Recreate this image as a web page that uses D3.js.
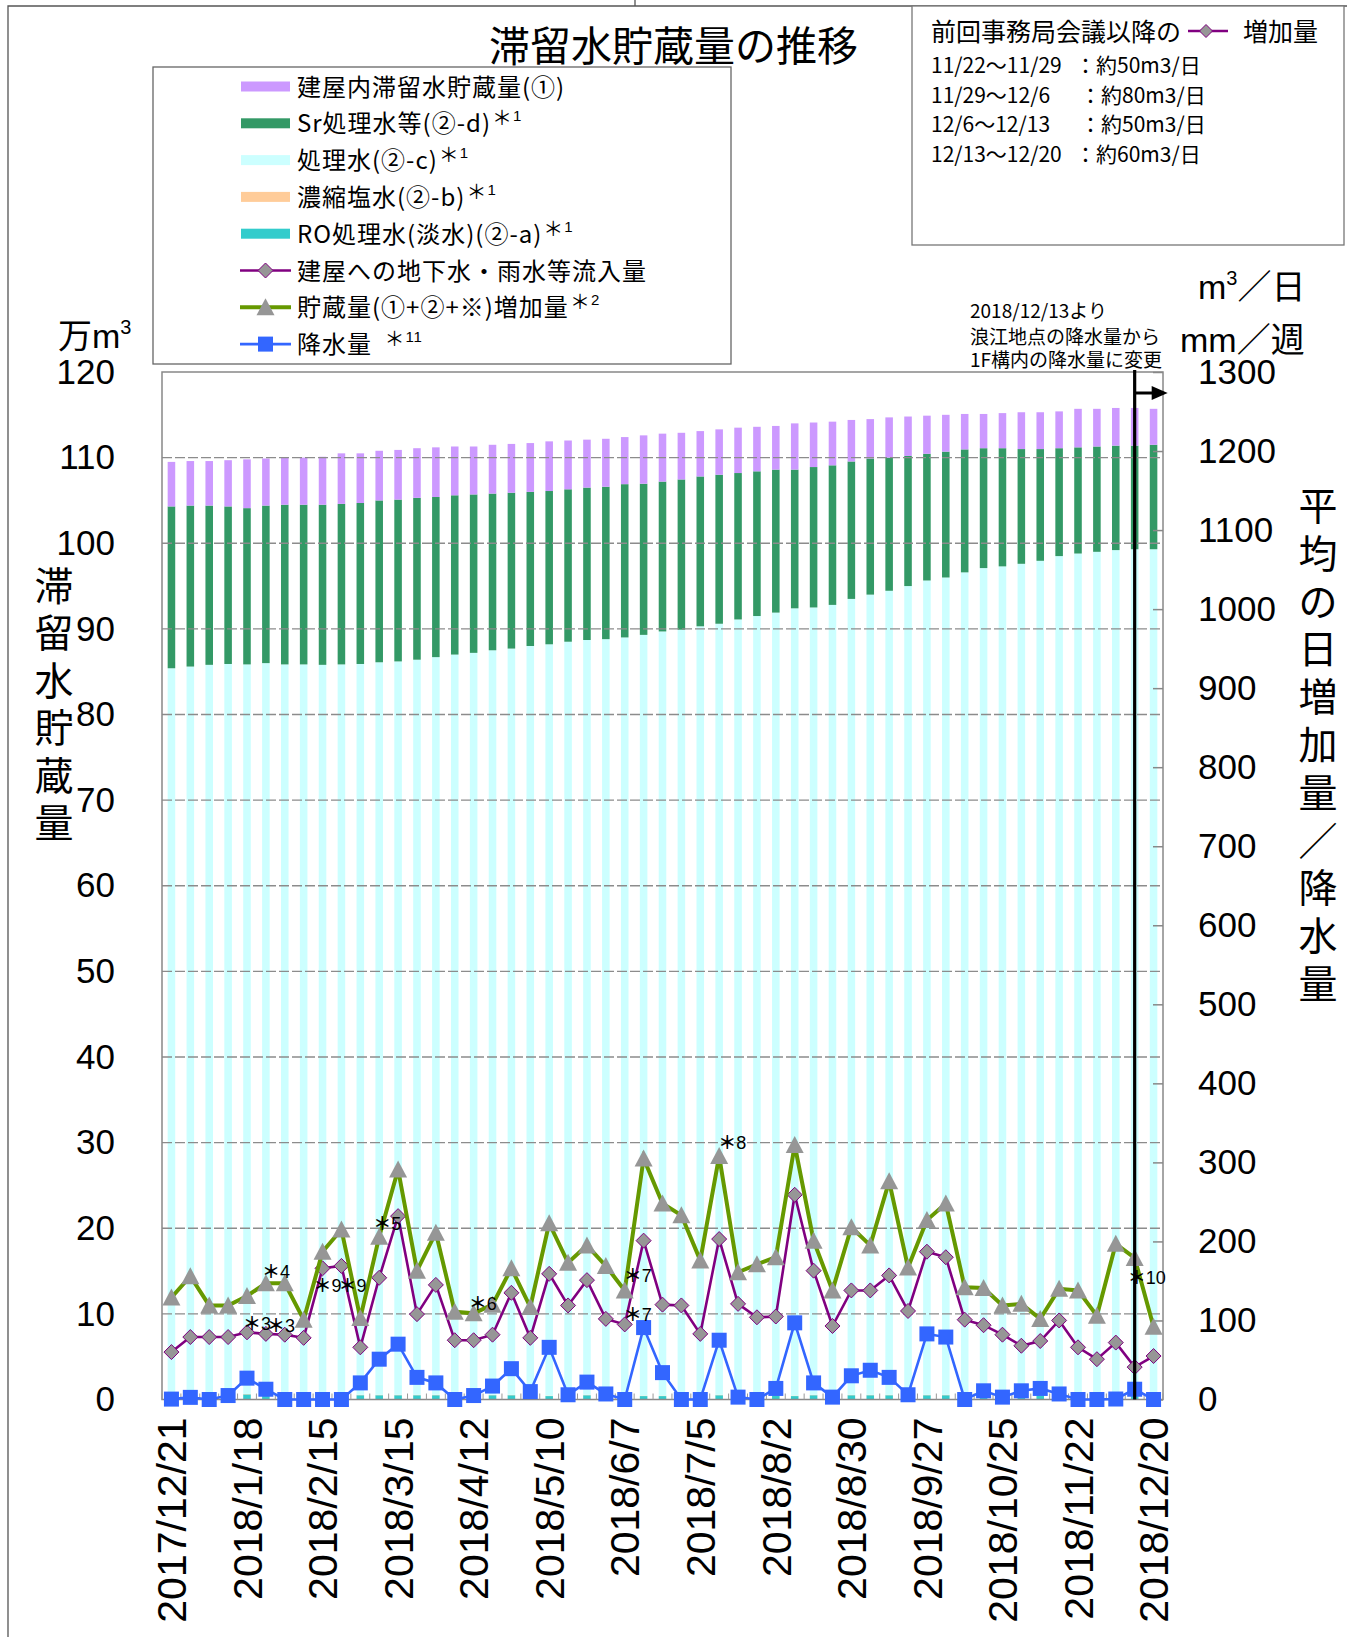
<!DOCTYPE html>
<html>
<head>
<meta charset="utf-8">
<script src="https://cdn.jsdelivr.net/npm/d3@7"></script>
<style>
  body { margin: 0; background: #fff; }
  svg { display: block; }
</style>
</head>
<body>
<div id="chart"></div>
<script>
// weekly dates
const weeks = ["2017/12/21","2017/12/28","2018/1/4","2018/1/11","2018/1/18","2018/1/25","2018/2/1","2018/2/8",
  "2018/2/15","2018/2/22","2018/3/1","2018/3/8","2018/3/15","2018/3/22","2018/3/29","2018/4/5","2018/4/12",
  "2018/4/19","2018/4/26","2018/5/3","2018/5/10","2018/5/17","2018/5/24","2018/5/31","2018/6/7","2018/6/14",
  "2018/6/21","2018/6/28","2018/7/5","2018/7/12","2018/7/19","2018/7/26","2018/8/2","2018/8/9","2018/8/16",
  "2018/8/23","2018/8/30","2018/9/6","2018/9/13","2018/9/20","2018/9/27","2018/10/4","2018/10/11","2018/10/18",
  "2018/10/25","2018/11/1","2018/11/8","2018/11/15","2018/11/22","2018/11/29","2018/12/6","2018/12/13","2018/12/20"];

// stacked bars (万m3)
const roWater = [0.5,0.4,0.4,0.4,0.6,0.5,0.4,0.4,0.4,0.4,0.5,0.5,0.5,0.5,0.5,0.4,0.4,0.5,0.5,0.4,0.4,0.4,0.5,0.4,0.4,0.4,
  0.4,0.5,0.4,0.5,0.4,0.4,0.5,0.4,0.5,0.4,0.5,0.5,0.5,0.4,0.5,0.5,0.4,0.4,0.5,0.4,0.5,0.4,0.4,0.4,0.4,0.4,0.4];
const brine = [0.05,0.05,0.05,0.05,0.05,0.05,0.05,0.05,0.05,0.05,0.05,0.05,0.05,0.05,0.05,0.05,0.05,0.05,0.05,0.05,
  0.05,0.05,0.05,0.05,0.05,0.05,0.05,0.05,0.05,0.05,0.05,0.05,0.05,0.05,0.05,0.05,0.05,0.05,0.05,0.05,0.05,0.05,
  0.05,0.05,0.05,0.05,0.05,0.05,0.05,0.05,0.05,0.05,0.05];
const treated = [84.85,85.15,85.35,85.45,85.2,85.45,85.4,85.4,85.35,85.4,85.35,85.55,85.65,85.85,86.15,86.55,86.75,
  86.95,87.15,87.55,87.75,88.05,88.15,88.35,88.55,88.85,89.25,89.35,89.85,90.05,90.65,91.05,91.35,91.95,91.95,92.35,
  92.95,93.45,93.9,94.55,95.1,95.45,96.15,96.65,96.75,97.15,97.4,98.05,98.35,98.55,98.75,98.85,98.85];
const srWater = [18.9,18.8,18.6,18.4,18.25,18.4,18.65,18.65,18.7,18.75,18.8,18.9,18.9,18.9,18.7,18.6,18.5,18.3,18.2,
  18.0,17.9,17.8,17.8,17.8,17.9,17.65,17.5,17.55,17.5,17.4,17.1,16.9,16.7,16.2,16.4,16.3,16.05,15.9,15.55,15.2,14.8,
  14.7,14.36,14.0,13.8,13.4,13.05,12.6,12.4,12.3,12.2,12.1,12.2];
const building = [5.2,5.2,5.2,5.4,5.7,5.5,5.5,5.5,5.6,5.9,5.8,5.8,5.8,5.8,5.8,5.7,5.6,5.7,5.7,5.7,5.8,5.7,5.6,5.6,5.5,
  5.65,5.6,5.45,5.3,5.3,5.3,5.2,5.1,5.4,5.2,5.1,4.85,4.6,4.7,4.6,4.45,4.3,4.14,4.0,4.1,4.3,4.3,4.3,4.5,4.4,4.4,4.4,4.2];

// lines (m3/日, mm/週)
const inflow = [60,79,79,79,85,83,82,78,166,169,66,154,232,108,145,75,75,82,135,78,159,119,151,102,95,201,120,119,83,
  203,121,104,105,259,163,93,138,138,157,112,187,180,101,94,82,68,74,100,66,51,72,41,55];
const storageIncrease = [129,156,119,119,131,147,147,101,187,215,103,206,291,163,211,111,109,120,166,117,223,173,195,
  169,138,305,248,233,176,308,161,171,180,322,201,138,218,195,276,167,227,248,142,141,119,121,102,140,138,106,197,179,92];
const rainfall = [0.5,2.7,0,5,27,13,0,0,0,0,21,51,70,28,21,0,5,17,39,10,66,6,22,7,0,91,34,0,0,75,3,0,14,97,21,3,30,37,
  28,6,83,79,0,11,3,11,14,7,0,0,0.6,13,0];

const leftTicks = [0,10,20,30,40,50,60,70,80,90,100,110,120];
const rightTicks = [0,100,200,300,400,500,600,700,800,900,1000,1100,1200,1300];
const dateTickIdx = [0,4,8,12,16,20,24,28,32,36,40,44,48,52];

// notes on points
const noteIdx = [4,5,5,8,9,11,16,24,24,29,51];
const noteSeries = ["in","in","st","in","in","st","st","st","in","st","st"];
const noteText = ["3","3","4","9","9","5","6","7","7","8","10"];
const noteOffset = [[-4,-2],[1,-2],[-4,-5],[-9,24],[-3,26],[-6,-7],[-5,-3],[-1,-8],[-1,-3],[-1,-7],[-7,26]];

const legendNames = ["建屋内滞留水貯蔵量(①)","Sr処理水等(②-d)","処理水(②-c)","濃縮塩水(②-b)",
  "RO処理水(淡水)(②-a)","建屋への地下水・雨水等流入量","貯蔵量(①+②+※)増加量","降水量 "];
const legendNotes = ["","1","1","1","1","","2","11"];

const infoDates = ["11/22〜11/29","11/29〜12/6","12/6〜12/13","12/13〜12/20"];
const infoValues = ["：約50m3/日","：約80m3/日","：約50m3/日","：約60m3/日"];

const W = 1347, H = 1637;
const plot = {left: 162, right: 1163, top: 372, bottom: 1399.5};
const jp = "'Noto Sans CJK JP', sans-serif";
const num = "'Liberation Sans', Arial, sans-serif";

const svg = d3.select("#chart").append("svg")
    .attr("width", W).attr("height", H)
    .style("font-family", jp);

// outer frame lines
svg.append("path").attr("d", `M8,${H} V6 H${W} M635,0 V6`)
    .attr("fill", "none").attr("stroke", "#555").attr("stroke-width", 1.3);

const x = d3.scaleBand().domain(d3.range(weeks.length))
    .range([plot.left, plot.right]).paddingInner(0.6).paddingOuter(0.3);
const yL = d3.scaleLinear().domain([0, 120]).range([plot.bottom, plot.top]);
const yR = d3.scaleLinear().domain([0, 1300]).range([plot.bottom, plot.top]);
const cx = i => x(i) + x.bandwidth() / 2;

// stacked bars
const keys = ["ro", "brine", "treated", "sr", "building"];
const colors = {ro: "#33cccc", brine: "#ffcc99", treated: "#ccffff", sr: "#339966", building: "#cc99ff"};
const rows = weeks.map((w, i) => ({ro: roWater[i], brine: brine[i], treated: treated[i], sr: srWater[i], building: building[i]}));
const series = d3.stack().keys(keys)(rows);

svg.append("g").selectAll("g")
  .data(series)
  .join("g")
    .attr("fill", s => colors[s.key])
  .selectAll("rect")
  .data(s => s)
  .join("rect")
    .attr("x", (d, i) => x(i))
    .attr("width", x.bandwidth())
    .attr("y", d => yL(d[1]))
    .attr("height", d => yL(d[0]) - yL(d[1]));

// gridlines (on top of bars)
svg.append("g").selectAll("line")
  .data(leftTicks.filter(v => v > 0 && v < 120))
  .join("line")
    .attr("x1", plot.left).attr("x2", plot.right)
    .attr("y1", d => yL(d)).attr("y2", d => yL(d))
    .attr("stroke", "#8c8c8c").attr("stroke-width", 1.4)
    .attr("stroke-dasharray", "10,3");

// plot border
svg.append("rect")
    .attr("x", plot.left).attr("y", plot.top)
    .attr("width", plot.right - plot.left).attr("height", plot.bottom - plot.top)
    .attr("fill", "none").attr("stroke", "#888").attr("stroke-width", 1.5);

// category tick marks on the bottom
svg.append("g").selectAll("line")
  .data(d3.range(weeks.length + 1))
  .join("line")
    .attr("x1", i => plot.left + i * x.step()).attr("x2", i => plot.left + i * x.step())
    .attr("y1", plot.bottom).attr("y2", plot.bottom - 6)
    .attr("stroke", "#999").attr("stroke-width", 1);

// left axis
const axL = svg.append("g").attr("transform", `translate(${plot.left},0)`)
    .call(d3.axisLeft(yL).tickValues(leftTicks).tickSize(0).tickPadding(47));
axL.select(".domain").remove();
axL.selectAll("text").style("font-family", num).style("font-size", "35px").attr("fill", "#000");

// right axis
const axR = svg.append("g").attr("transform", `translate(${plot.right},0)`)
    .call(d3.axisRight(yR).tickValues(rightTicks).tickFormat(d3.format("d"))
      .tickSizeInner(-10).tickSizeOuter(0).tickPadding(35));
axR.select(".domain").remove();
axR.selectAll("line").attr("stroke", "#888").attr("stroke-width", 1.5);
axR.selectAll("text").style("font-family", num).style("font-size", "35px").attr("fill", "#000");

// bottom axis
const axB = svg.append("g").attr("transform", `translate(0,${plot.bottom})`)
    .call(d3.axisBottom(x).tickValues(dateTickIdx).tickFormat(i => weeks[i]).tickSize(0));
axB.select(".domain").remove();
axB.selectAll("text")
    .attr("transform", "rotate(-90)")
    .attr("text-anchor", "end")
    .attr("x", -18).attr("y", 0).attr("dy", "0.36em")
    .style("font-family", num).style("font-size", "41px").attr("fill", "#000");

// lines
const lineIn = d3.line().x((d, i) => cx(i)).y(d => yR(d));
svg.append("path").datum(inflow).attr("d", lineIn)
    .attr("fill", "none").attr("stroke", "#800080").attr("stroke-width", 2.6);
svg.append("g").selectAll("path").data(inflow).join("path")
    .attr("transform", (d, i) => `translate(${cx(i)},${yR(d)})`)
    .attr("d", "M0,-7.5L7.5,0L0,7.5L-7.5,0Z")
    .attr("fill", "#969696").attr("stroke", "#800080").attr("stroke-width", 1);

svg.append("path").datum(storageIncrease).attr("d", lineIn)
    .attr("fill", "none").attr("stroke", "#669900").attr("stroke-width", 4);
svg.append("g").selectAll("path").data(storageIncrease).join("path")
    .attr("transform", (d, i) => `translate(${cx(i)},${yR(d)})`)
    .attr("d", "M0,-9L9,8L-9,8Z")
    .attr("fill", "#969696");

svg.append("path").datum(rainfall).attr("d", lineIn)
    .attr("fill", "none").attr("stroke", "#3366ff").attr("stroke-width", 2.6);
svg.append("g").selectAll("rect").data(rainfall).join("rect")
    .attr("x", (d, i) => cx(i) - 7.5).attr("y", d => yR(d) - 7.5)
    .attr("width", 15).attr("height", 15)
    .attr("fill", "#3366ff");

// notes (*n)
const notes = svg.append("g").attr("fill", "#000");
noteIdx.forEach((idx, k) => {
  const v = noteSeries[k] === "in" ? inflow[idx] : storageIncrease[idx];
  const t = notes.append("text")
      .attr("x", cx(idx) + noteOffset[k][0])
      .attr("y", yR(v) + noteOffset[k][1]);
  t.append("tspan").text("＊").style("font-family", jp).style("font-size", "18px").style("font-weight", "bold");
  t.append("tspan").text(noteText[k]).style("font-family", num).style("font-size", "18px");
});

// 2018/12/13 change marker
const xm = cx(51);
svg.append("line").attr("x1", xm).attr("x2", xm).attr("y1", plot.top - 2).attr("y2", plot.bottom)
    .attr("stroke", "#000").attr("stroke-width", 3.2);
svg.append("line").attr("x1", xm).attr("x2", xm + 20).attr("y1", 393).attr("y2", 393)
    .attr("stroke", "#000").attr("stroke-width", 3);
svg.append("path").attr("d", `M${xm + 17},386 L${xm + 33},393 L${xm + 17},400Z`).attr("fill", "#000");

svg.append("g").style("font-size", "19px").attr("fill", "#000")
  .selectAll("text")
  .data(["2018/12/13より", "浪江地点の降水量から", "1F構内の降水量に変更"])
  .join("text")
    .attr("x", 970).attr("y", (d, i) => [318, 344, 367][i])
    .text(d => d);

// title
svg.append("text").attr("x", 489).attr("y", 61)
    .style("font-size", "41px").text("滞留水貯蔵量の推移");

// axis titles
const ut = svg.append("text").attr("x", 58).attr("y", 348).style("font-size", "34px");
ut.append("tspan").text("万");
ut.append("tspan").text("m").style("font-family", num);
ut.append("tspan").text("3").style("font-family", num).style("font-size", "20px").attr("dy", -14);

const ur1 = svg.append("text").attr("x", 1198).attr("y", 299).style("font-size", "34px");
ur1.append("tspan").text("m").style("font-family", num);
ur1.append("tspan").text("3").style("font-family", num).style("font-size", "20px").attr("dy", -14);
ur1.append("tspan").text("／日").attr("dy", 14);

const ur2 = svg.append("text").attr("x", 1180).attr("y", 352).style("font-size", "34px");
ur2.append("tspan").text("mm").style("font-family", num);
ur2.append("tspan").text("／週");

svg.append("g").style("font-size", "39px").attr("text-anchor", "middle")
  .selectAll("text").data(Array.from("滞留水貯蔵量")).join("text")
    .attr("x", 54).attr("y", (d, i) => 600 + i * 47.4)
    .text(d => d);

svg.append("g").style("font-size", "39px").attr("text-anchor", "middle")
  .selectAll("text").data(Array.from("平均の日増加量／降水量")).join("text")
    .attr("x", 1318).attr("y", (d, i) => 520 + i * 47.8)
    .text(d => d);

// legend
const lg = svg.append("g");
lg.append("rect").attr("x", 153).attr("y", 67).attr("width", 578).attr("height", 297)
    .attr("fill", "#fff").attr("stroke", "#666").attr("stroke-width", 1.3);
const legendKinds = ["building", "sr", "treated", "brine", "ro", "in", "st", "rain"];
legendKinds.forEach((kind, i) => {
  const cy = 86.5 + i * 36.8;
  const row = lg.append("g");
  if (colors[kind]) {
    row.append("rect").attr("x", 241).attr("y", cy - 5).attr("width", 49).attr("height", 10).attr("fill", colors[kind]);
  } else if (kind === "in") {
    row.append("line").attr("x1", 240).attr("x2", 291).attr("y1", cy).attr("y2", cy).attr("stroke", "#800080").attr("stroke-width", 2.6);
    row.append("path").attr("transform", `translate(265.5,${cy})`).attr("d", "M0,-7.5L7.5,0L0,7.5L-7.5,0Z")
        .attr("fill", "#969696").attr("stroke", "#800080");
  } else if (kind === "st") {
    row.append("line").attr("x1", 240).attr("x2", 291).attr("y1", cy).attr("y2", cy).attr("stroke", "#669900").attr("stroke-width", 4);
    row.append("path").attr("transform", `translate(265.5,${cy})`).attr("d", "M0,-9L9,8L-9,8Z").attr("fill", "#969696");
  } else {
    row.append("line").attr("x1", 240).attr("x2", 291).attr("y1", cy).attr("y2", cy).attr("stroke", "#3366ff").attr("stroke-width", 2.6);
    row.append("rect").attr("x", 258).attr("y", cy - 7.5).attr("width", 15).attr("height", 15).attr("fill", "#3366ff");
  }
  const t = row.append("text").attr("x", 297).attr("y", cy + 9).style("font-size", "24px").style("letter-spacing", "1px");
  t.append("tspan").text(legendNames[i]);
  if (legendNotes[i]) {
    t.append("tspan").text("＊").style("font-size", "20px").attr("dx", i === 7 ? 6 : 1).attr("dy", -7);
    t.append("tspan").text(legendNotes[i]).style("font-family", num).style("font-size", "15px").attr("dy", -4);
  }
});

// info box
const ib = svg.append("g");
ib.append("rect").attr("x", 912).attr("y", 6).attr("width", 432).attr("height", 239)
    .attr("fill", "#fff").attr("stroke", "#777").attr("stroke-width", 1.3);
ib.append("text").attr("x", 931).attr("y", 41).style("font-size", "25px").text("前回事務局会議以降の");
ib.append("line").attr("x1", 1188).attr("x2", 1228).attr("y1", 31).attr("y2", 31).attr("stroke", "#800080").attr("stroke-width", 2.6);
ib.append("path").attr("transform", "translate(1206,31)").attr("d", "M0,-6.5L6.5,0L0,6.5L-6.5,0Z")
    .attr("fill", "#969696").attr("stroke", "#800080");
ib.append("text").attr("x", 1243).attr("y", 41).style("font-size", "25px").text("増加量");
infoDates.forEach((d, i) => {
  const yy = 73 + i * 29.6;
  ib.append("text").attr("x", 931).attr("y", yy).style("font-size", "21px").text(d);
  ib.append("text").attr("x", (i === 1 || i === 2) ? 1080 : 1075).attr("y", yy).style("font-size", "21px").text(infoValues[i]);
});
</script>
</body>
</html>
